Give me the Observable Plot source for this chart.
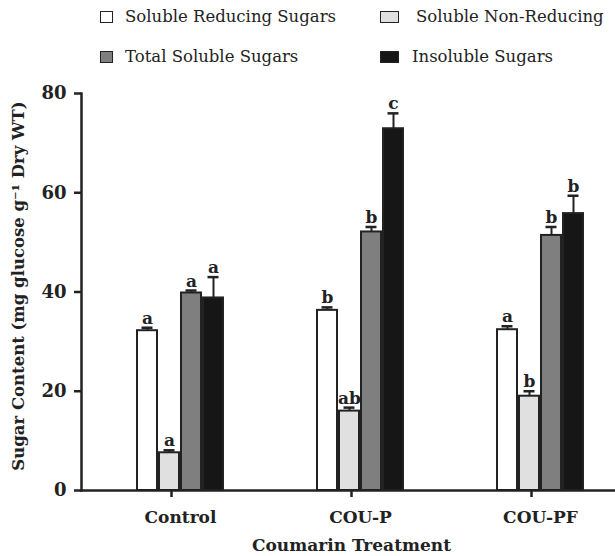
<!DOCTYPE html>
<html><head><meta charset="utf-8">
<script src="https://cdn.jsdelivr.net/npm/d3@7"></script>
<script src="https://cdn.jsdelivr.net/npm/@observablehq/plot@0.6"></script>
<style>
body{margin:0;background:#fff;}
#wrap{position:relative;width:615px;height:556px;font-family:"DejaVu Serif",serif;color:#222;}
#legend{position:relative;height:75px;}
.item{position:absolute;display:flex;align-items:center;font-size:16.5px;line-height:20px;white-space:nowrap;}
.sw{display:inline-block;height:10px;border:1.5px solid #222;box-sizing:content-box;}
</style></head>
<body><div id="wrap"><div id="legend"></div><div id="chart"></div></div>
<script>
const treatments = ["Control", "COU-P", "COU-PF"];
const series = ["Soluble Reducing Sugars", "Soluble Non-Reducing", "Total Soluble Sugars", "Insoluble Sugars"];
const colors = ["#ffffff", "#e0e0e0", "#7f7f7f", "#161616"];

const reducing = [32.2, 36.3, 32.4];
const nonReducing = [7.6, 16.0, 19.0];
const totalSoluble = [39.8, 52.1, 51.4];
const insoluble = [38.8, 72.9, 55.8];

const reducingErr = [0.6, 0.6, 0.7];
const nonReducingErr = [0.5, 0.7, 1.0];
const totalSolubleErr = [0.5, 1.0, 1.7];
const insolubleErr = [4.2, 3.1, 3.6];

const reducingSig = ["a", "b", "a"];
const nonReducingSig = ["a", "ab", "b"];
const totalSolubleSig = ["a", "b", "b"];
const insolubleSig = ["a", "c", "b"];

const yTicks = [0, 20, 40, 60, 80];
const yLabel = "Sugar Content (mg glucose g\u207B\u00B9 Dry WT)";
const xLabel = "Coumarin Treatment";

const vals = [reducing, nonReducing, totalSoluble, insoluble];
const errs = [reducingErr, nonReducingErr, totalSolubleErr, insolubleErr];
const sigs = [reducingSig, nonReducingSig, totalSolubleSig, insolubleSig];

const data = treatments.flatMap((t, i) => series.map((s, j) => ({
  treatment: t, series: s, value: vals[j][i], err: errs[j][i], sig: sigs[j][i]
})));

// legend
const legend = document.getElementById("legend");
const legendPos = [
  {left: 100, top: 7, sw: 11, gap: 12}, {left: 380, top: 7, sw: 17, gap: 17},
  {left: 100, top: 47, sw: 11, gap: 12}, {left: 380, top: 47, sw: 17, gap: 13}
];
series.forEach((s, j) => {
  const it = document.createElement("div");
  it.className = "item";
  it.style.left = legendPos[j].left + "px";
  it.style.top = legendPos[j].top + "px";
  const sw = document.createElement("span");
  sw.className = "sw";
  sw.style.width = legendPos[j].sw + "px";
  sw.style.marginRight = legendPos[j].gap + "px";
  sw.style.background = colors[j];
  it.appendChild(sw);
  it.appendChild(document.createTextNode(s));
  legend.appendChild(it);
});

const ink = "#222";
const chart = Plot.plot({
  width: 615, height: 481,
  marginLeft: 85, marginRight: 5, marginTop: 18, marginBottom: 66,
  style: {fontFamily: "DejaVu Serif, serif", color: ink, background: "#fff"},
  fx: {domain: treatments, paddingInner: 0, paddingOuter: -0.0417, align: 0.267, label: null},
  x: {domain: series, paddingInner: 0.1, paddingOuter: 2.028, align: 0.59, axis: null},
  y: {domain: [0, 80]},
  color: {domain: series, range: colors},
  marks: [
    Plot.barY(data, {fx: "treatment", x: "series", y: "value", fill: "series", stroke: ink, strokeWidth: 2}),
    Plot.ruleX(data, {fx: "treatment", x: "series", y1: "value", y2: d => d.value + d.err, stroke: ink, strokeWidth: 2}),
    Plot.tickY(data, {fx: "treatment", x: "series", y: d => d.value + d.err, stroke: ink, strokeWidth: 2.5, insetLeft: 4.5, insetRight: 4.5}),
    Plot.text(data, {fx: "treatment", x: "series", y: d => d.value + d.err, text: "sig", lineAnchor: "bottom", dy: -4, fontSize: 17, fontWeight: "bold", fill: ink}),
    Plot.frame({anchor: "bottom", facet: "super", stroke: ink, strokeWidth: 2.5}),
    Plot.frame({anchor: "left", facet: "super", stroke: ink, strokeWidth: 2.5}),
    Plot.axisY({ticks: yTicks, tickSize: 7, tickPadding: 8, fontSize: 18, fontWeight: "bold", label: null, strokeWidth: 2.5}),
    Plot.axisFx({anchor: "bottom", text: null, tickSize: 7, strokeWidth: 2.5, label: null}),
    Plot.axisFx({anchor: "bottom", tickSize: 0, tickPadding: 20, dx: 9, fontSize: 17, fontWeight: "bold", label: null}),
    Plot.text([xLabel], {frameAnchor: "bottom", dy: 60, fontSize: 17, fontWeight: "bold", fill: ink, facet: "super"}),
    Plot.text([yLabel], {frameAnchor: "left", textAnchor: "middle", rotate: -90, dx: -63, dy: -6, fontSize: 16.5, fontWeight: "bold", fill: ink, facet: "super"})
  ]
});
document.getElementById("chart").appendChild(chart);
</script>
</body></html>
